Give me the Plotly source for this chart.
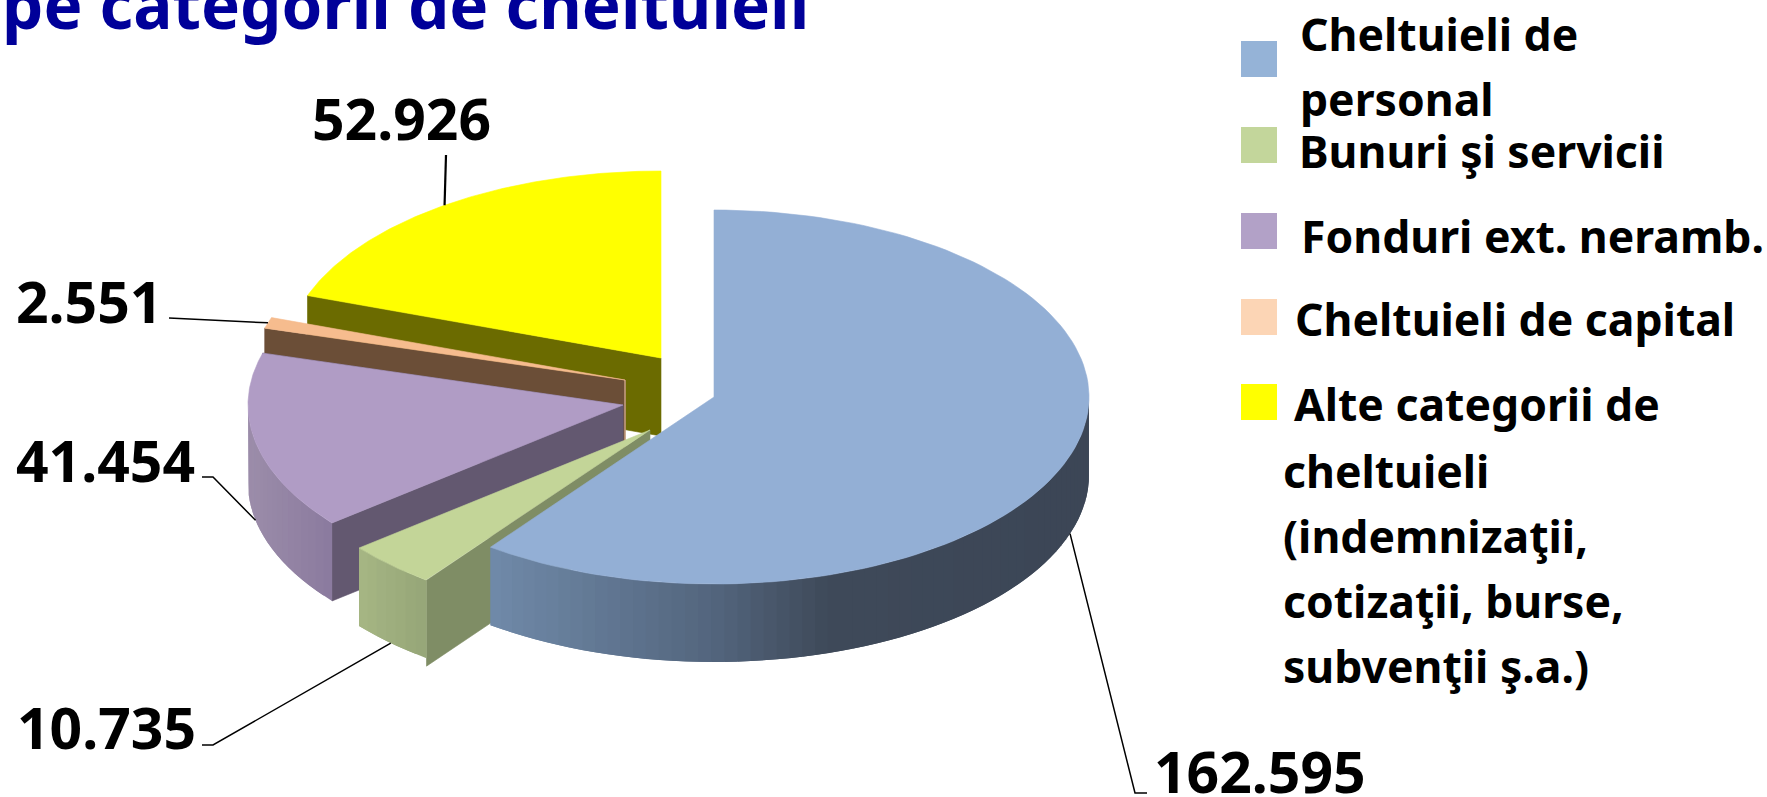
import numpy as np
import plotly.graph_objects as go

categories = ["Cheltuieli de personal", "Bunuri şi servicii", "Fonduri ext. neramb.",
              "Cheltuieli de capital", "Alte categorii de cheltuieli"]
values = [162595, 10735, 41454, 2551, 52926]

legend_lines = [["Cheltuieli de", "personal"], ["Bunuri şi servicii"], ["Fonduri ext. neramb."],
                ["Cheltuieli de capital"],
                ["Alte categorii de", "cheltuieli", "(indemnizaţii,", "cotizaţii, burse,", "subvenţii ş.a.)"]]
title_text = "pe categorii de cheltuieli"

top_colors = ["#93AFD5", "#C3D598", "#B09CC5", "#F6BC8E", "#FFFF00"]
legend_colors = ["#95B3D7", "#C3D69B", "#B2A1C7", "#FCD5B5", "#FFFF00"]
face_colors = ["#4E5F78", "#7F8D65", "#635870", "#6B4E37", "#6B6B00"]
rim_stops = [
    [(492, "#708AA9"), (716, "#53657D"), (826, "#3F4A5A"), (1089, "#3C4656")],
    [(360, "#A6B684"), (427, "#96A678")],
    [(249, "#9C8DAA"), (332, "#8B7B9F")],
    [(0, "#6B4E37"), (1, "#6B4E37")],
    [(0, "#6B6B00"), (1, "#6B6B00")],
]
centers = [(714, 397), (650, 430), (623, 405), (625, 380), (661, 358)]
RX, RY, DEPTH = 375, 187, 78
green_face_depth = 86

total = sum(values)
edges = np.concatenate([[0], np.cumsum(values) / total * 360])


def ell(c, deg):
    t = np.radians(deg)
    return c[0] + RX * np.sin(t), c[1] - RY * np.cos(t)


def hex2rgb(h):
    return np.array([int(h[i:i + 2], 16) for i in (1, 3, 5)], float)


def color_at(stops, x):
    xs = [s[0] for s in stops]
    cs = np.array([hex2rgb(s[1]) for s in stops])
    r = [np.interp(x, xs, cs[:, k]) for k in range(3)]
    return "rgb(%d,%d,%d)" % tuple(r)


fig = go.Figure()


def poly(x, y, color, name, lw=0.6):
    fig.add_trace(go.Scatter(x=list(x), y=list(y), mode="lines", fill="toself", fillcolor=color,
                             line=dict(color=color, width=lw), hoverinfo="skip", name=name,
                             showlegend=False))


def top(i):
    a0, a1 = edges[i], edges[i + 1]
    th = np.linspace(a0, a1, 120)
    x, y = ell(centers[i], th)
    poly(np.r_[centers[i][0], x, centers[i][0]], np.r_[centers[i][1], y, centers[i][1]],
         top_colors[i], categories[i])


def cut_face(i, deg, depth=DEPTH):
    c = centers[i]
    x, y = ell(c, deg)
    poly([c[0], x, x, c[0], c[0]], [c[1], y, y + depth, c[1] + depth, c[1]], face_colors[i], categories[i])


def rim(i):
    a0 = max(edges[i], 90)
    a1 = min(edges[i + 1], 270)
    if a1 <= a0:
        return
    n = max(4, int((a1 - a0) * 0.5))
    th = np.linspace(a0, a1, n + 1)
    for k in range(n):
        # each strip overlaps the next one, so no seams show between them
        t = np.linspace(th[k], min(th[k + 1] + (th[1] - th[0]), a1), 8)
        x, y = ell(centers[i], t)
        tc = np.linspace(th[k], th[k + 1], 4)
        col = color_at(rim_stops[i], ell(centers[i], tc)[0].mean())
        poly(np.r_[x, x[::-1], x[0]], np.r_[y, y[::-1] + DEPTH, y[0]], col, categories[i], lw=0)


# painter's order, back to front
cut_face(4, edges[4])
top(4)
cut_face(3, edges[3])
c3 = centers[3]
fig.add_trace(go.Scatter(x=[c3[0], c3[0]], y=[c3[1], c3[1] + DEPTH], mode="lines",
                         line=dict(color="#C9A184", width=1.5), hoverinfo="skip", showlegend=False))
top(3)
cut_face(2, edges[3])
cut_face(2, edges[2])
rim(2)
top(2)
cut_face(1, edges[1], green_face_depth)
rim(1)
top(1)
rim(0)
top(0)

label_pos = [(1152, 771), (15, 727), (14, 460), (14, 301), (310, 118)]
elbows = [[(1147, 793), (1135, 793)], [(202, 745), (213, 745)], [(202, 477), (213, 477)],
          [(169, 318)], [(446, 155)]]
use_depth = [True, True, True, False, False]
lw = [1.5, 1.5, 1.5, 1.5, 2.2]
for i, v in enumerate(values):
    mid = (edges[i] + edges[i + 1]) / 2
    px, py = ell(centers[i], mid)
    if use_depth[i]:
        py += DEPTH
    xs = [p[0] for p in elbows[i]] + [px]
    ys = [p[1] for p in elbows[i]] + [py]
    fig.add_trace(go.Scatter(x=xs, y=ys, mode="lines", line=dict(color="black", width=lw[i]),
                             hoverinfo="skip", showlegend=False))

FONT = "Noto Sans"
ann = []
for i, v in enumerate(values):
    x, y = label_pos[i]
    ann.append(dict(x=x, y=y, text=f"{v:,}".replace(",", "."), showarrow=False, xanchor="left", yanchor="middle",
                    font=dict(family=FONT, size=57, color="black", weight="bold")))

legend_sq_y = [59, 145, 231, 317, 402]
fig.add_trace(go.Scatter(x=[1259] * 5, y=legend_sq_y, mode="markers",
                         marker=dict(symbol="square", size=36, color=legend_colors, line=dict(width=0)),
                         hoverinfo="skip", showlegend=False))
legend_text_pos = [[(1298, 33), (1298, 98)], [(1297, 150)], [(1299, 235)], [(1293, 318)],
                   [(1292, 403), (1281, 470), (1281, 535), (1281, 600), (1281, 665)]]
for lines, poss in zip(legend_lines, legend_text_pos):
    for t, (x, y) in zip(lines, poss):
        ann.append(dict(x=x, y=y, text=t, showarrow=False, xanchor="left", yanchor="middle",
                        font=dict(family=FONT, size=44.5, color="black", weight="bold")))

ann.append(dict(x=0, y=3, text=title_text, showarrow=False, xanchor="left", yanchor="middle",
                font=dict(family=FONT, size=65.5, color="#000099", weight="bold")))

fig.update_layout(
    width=1767, height=797, margin=dict(l=0, r=0, t=0, b=0),
    paper_bgcolor="white", plot_bgcolor="white", showlegend=False, annotations=ann,
    xaxis=dict(range=[0, 1767], visible=False, fixedrange=True),
    yaxis=dict(range=[797, 0], visible=False, fixedrange=True),
)
fig.write_html("out.html", config={"displayModeBar": False},
               post_script="document.body.style.margin='0';document.body.style.overflow='hidden';")
